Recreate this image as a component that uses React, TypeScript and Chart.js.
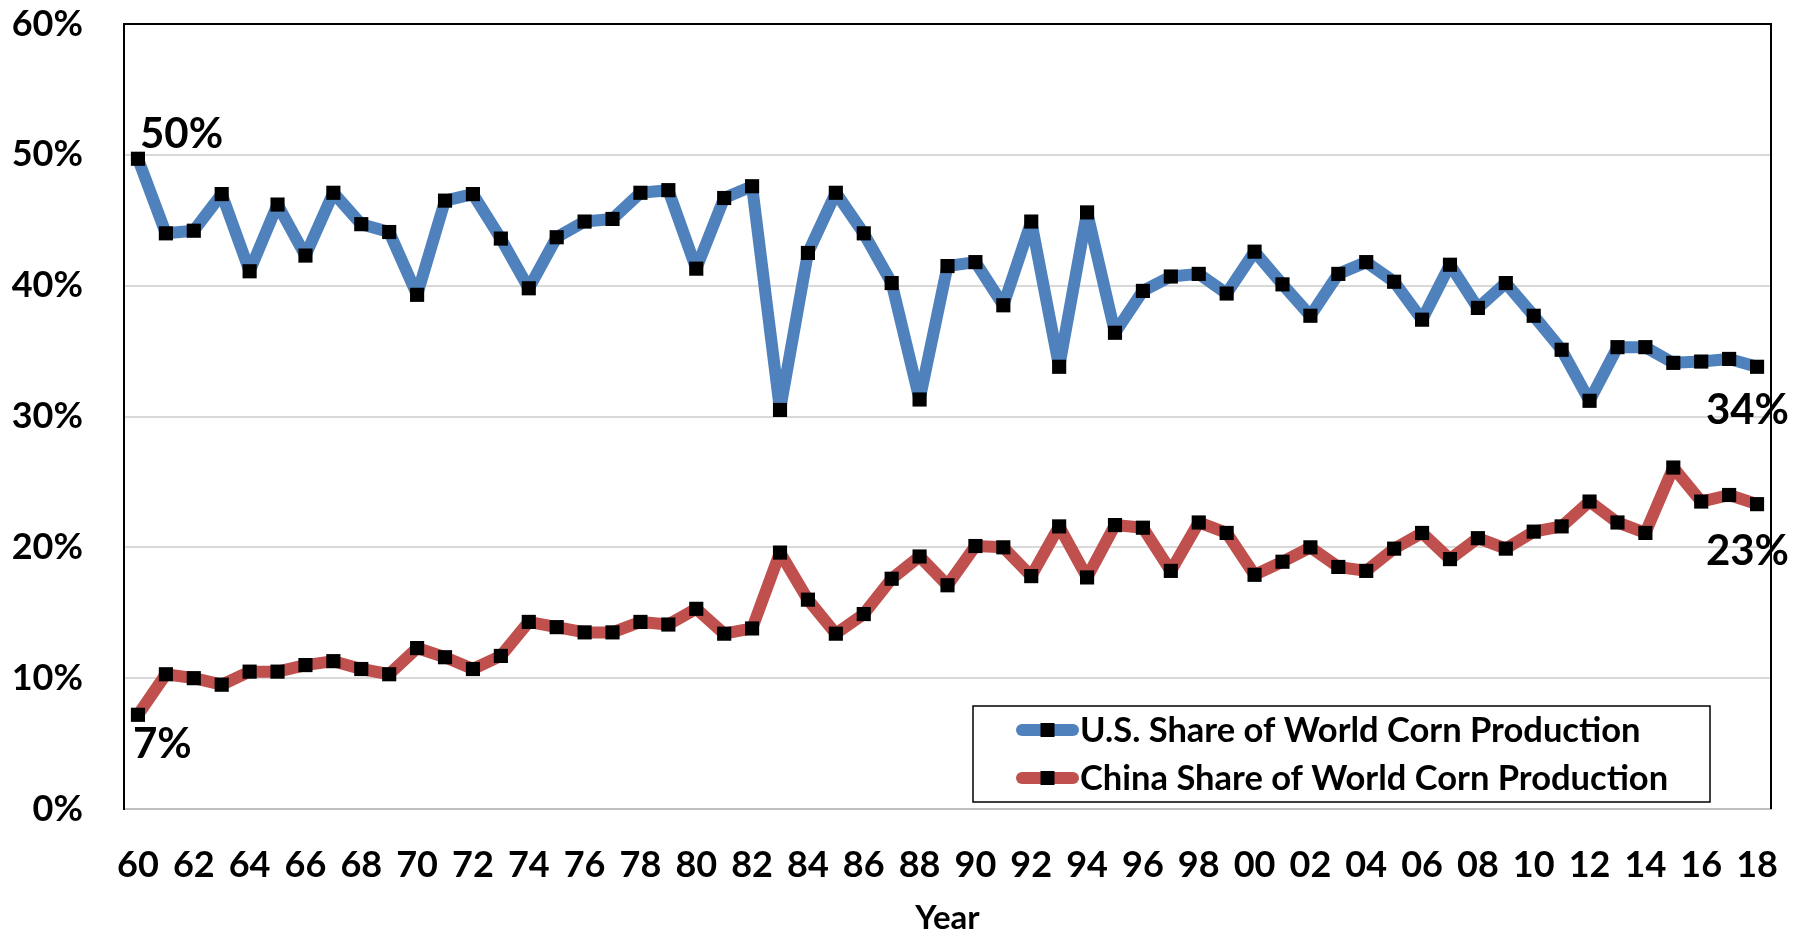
import React, { useEffect, useRef } from 'react';
import { Chart, registerables } from 'chart.js';

Chart.register(...registerables);

const years = [
  '60', '61', '62', '63', '64', '65', '66', '67', '68', '69',
  '70', '71', '72', '73', '74', '75', '76', '77', '78', '79',
  '80', '81', '82', '83', '84', '85', '86', '87', '88', '89',
  '90', '91', '92', '93', '94', '95', '96', '97', '98', '99',
  '00', '01', '02', '03', '04', '05', '06', '07', '08', '09',
  '10', '11', '12', '13', '14', '15', '16', '17', '18',
];

const usShare = [
  49.7, 44.0, 44.2, 47.0, 41.1, 46.2, 42.3, 47.1, 44.7, 44.1,
  39.3, 46.5, 47.0, 43.6, 39.8, 43.7, 44.9, 45.1, 47.1, 47.3,
  41.3, 46.7, 47.6, 30.5, 42.5, 47.1, 44.0, 40.2, 31.3, 41.5,
  41.8, 38.5, 44.9, 33.8, 45.6, 36.4, 39.6, 40.7, 40.9, 39.4,
  42.6, 40.1, 37.7, 40.9, 41.8, 40.3, 37.4, 41.6, 38.3, 40.2,
  37.7, 35.1, 31.2, 35.3, 35.3, 34.1, 34.2, 34.4, 33.8,
];

const chinaShare = [
  7.2, 10.3, 10.0, 9.5, 10.5, 10.5, 11.0, 11.3, 10.7, 10.3,
  12.3, 11.6, 10.7, 11.7, 14.3, 13.9, 13.5, 13.5, 14.3, 14.1,
  15.3, 13.4, 13.8, 19.6, 16.0, 13.4, 14.9, 17.6, 19.3, 17.1,
  20.1, 20.0, 17.8, 21.6, 17.7, 21.7, 21.5, 18.2, 21.9, 21.1,
  17.9, 18.9, 20.0, 18.5, 18.2, 19.9, 21.1, 19.1, 20.7, 19.9,
  21.2, 21.6, 23.5, 21.9, 21.1, 26.1, 23.5, 24.0, 23.3,
];

const seriesNames = [
  'U.S. Share of World Corn Production',
  'China Share of World Corn Production',
];
const seriesColors = ['#4F81BD', '#C0504D'];

const yTicks = [0, 10, 20, 30, 40, 50, 60];
const axisTitle = 'Year';

const FONT = 'Lato, "Open Sans", sans-serif';

const extrasPlugin = {
  id: 'extras',
  afterDraw(chart: any) {
    const ctx = chart.ctx;
    const ca = chart.chartArea;
    ctx.save();
    // plot border top/right
    ctx.strokeStyle = '#000';
    ctx.lineWidth = 2;
    ctx.beginPath();
    ctx.moveTo(ca.left, ca.top);
    ctx.lineTo(ca.right, ca.top);
    ctx.lineTo(ca.right, ca.bottom);
    ctx.stroke();

    // data labels
    const labelDefs = [
      { ds: 0, idx: 0, align: 'left', dx: 2, dy: -11 },
      { ds: 1, idx: 0, align: 'left', dx: -5, dy: 43 },
      { ds: 0, idx: usShare.length - 1, align: 'right', dx: 32, dy: 57 },
      { ds: 1, idx: chinaShare.length - 1, align: 'right', dx: 32, dy: 61 },
    ];
    ctx.font = `bold 42px ${FONT}`;
    ctx.fillStyle = '#000';
    ctx.textBaseline = 'alphabetic';
    for (const d of labelDefs) {
      const el = chart.getDatasetMeta(d.ds).data[d.idx];
      const v = chart.data.datasets[d.ds].data[d.idx] as number;
      ctx.textAlign = d.align;
      ctx.fillText(`${Math.round(v)}%`, el.x + d.dx, el.y + d.dy);
    }

    // legend box
    const bx = ca.right - 798;
    const by = ca.bottom - 103;
    const bw = 737;
    const bh = 96;
    ctx.fillStyle = '#fff';
    ctx.fillRect(bx, by, bw, bh);
    ctx.strokeStyle = '#000';
    ctx.lineWidth = 1.5;
    ctx.strokeRect(bx, by, bw, bh);
    chart.data.datasets.forEach((ds: any, i: number) => {
      const cy = by + 24 + i * 48;
      const x0 = bx + 49;
      const x1 = bx + 100;
      ctx.strokeStyle = ds.borderColor;
      ctx.lineWidth = 12;
      ctx.lineCap = 'round';
      ctx.beginPath();
      ctx.moveTo(x0, cy);
      ctx.lineTo(x1, cy);
      ctx.stroke();
      ctx.fillStyle = '#000';
      ctx.fillRect((x0 + x1) / 2 - 7, cy - 7, 14, 14);
      ctx.font = `bold 34.5px ${FONT}`;
      ctx.textAlign = 'left';
      ctx.textBaseline = 'middle';
      ctx.fillText(ds.label, bx + 107, cy + 1);
    });
    ctx.restore();
  },
};

export default function App() {
  const canvasRef = useRef<HTMLCanvasElement | null>(null);

  useEffect(() => {
    document.body.style.margin = '0';
    const canvas = canvasRef.current;
    if (!canvas) return;
    const lineDataset = (i: number, data: number[]) => ({
      label: seriesNames[i],
      data,
      borderColor: seriesColors[i],
      backgroundColor: seriesColors[i],
      borderWidth: 12,
      borderJoinStyle: 'round',
      pointStyle: 'rect',
      pointRadius: 10,
      pointBackgroundColor: '#000',
      pointBorderWidth: 0,
      tension: 0,
    });
    const chart = new Chart(canvas, {
      type: 'line',
      data: {
        labels: years,
        datasets: [lineDataset(0, usShare), lineDataset(1, chinaShare)] as any,
      },
      options: {
        responsive: false,
        animation: false,
        devicePixelRatio: 1,
        layout: { padding: { top: 24, right: 32, bottom: 0, left: 0 } },
        plugins: {
          legend: { display: false },
          tooltip: { enabled: false },
        },
        scales: {
          x: {
            type: 'category',
            offset: true,
            grid: { display: false, drawTicks: false },
            border: { display: true, color: '#BFBFBF', width: 2 },
            ticks: {
              autoSkip: false,
              maxRotation: 0,
              padding: 35,
              color: '#000',
              font: { family: FONT, size: 36, weight: 'bold' },
              callback: (_v: any, i: number) => (i % 2 === 0 ? years[i] : ''),
            },
            title: {
              display: true,
              text: axisTitle,
              color: '#000',
              padding: 0,
              font: { family: FONT, size: 33, weight: 'bold', lineHeight: 1 },
            },
            afterFit: (scale: any) => {
              scale.height = 126;
              scale.paddingLeft = 0;
              scale.paddingRight = 0;
            },
          },
          y: {
            min: 0,
            max: 60,
            afterBuildTicks: (scale: any) => {
              scale.ticks = yTicks.map((v) => ({ value: v }));
            },
            grid: {
              color: (c: any) => (c.tick && c.tick.value === 60 ? '#000' : '#D9D9D9'),
              lineWidth: 2,
              drawTicks: false,
            },
            border: { display: true, color: '#000', width: 2 },
            ticks: {
              padding: 41,
              color: '#000',
              font: { family: FONT, size: 36, weight: 'bold' },
              callback: (v: any) => `${v}%`,
            },
            afterFit: (scale: any) => {
              scale.width = 124;
              scale.paddingTop = 0;
              scale.paddingBottom = 0;
            },
          },
        },
      },
      plugins: [extrasPlugin],
    });
    return () => chart.destroy();
  }, []);

  return (
    <div style={{ width: 1803, height: 935, position: 'relative' }}>
      <canvas ref={canvasRef} width={1803} height={935} style={{ display: 'block' }} />
    </div>
  );
}
